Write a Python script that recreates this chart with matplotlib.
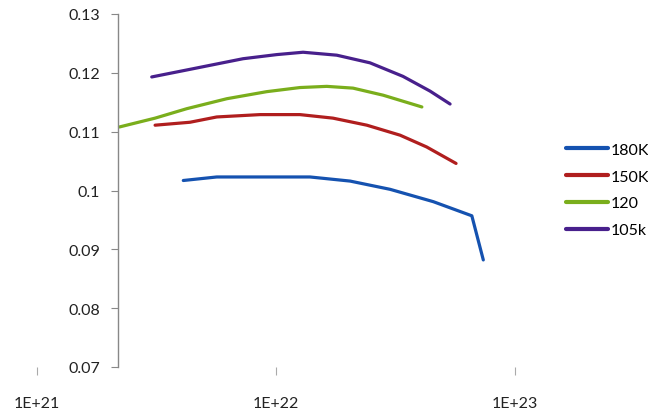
import numpy as np
import matplotlib
matplotlib.use("Agg")
import matplotlib.pyplot as plt

plt.rcParams['font.family'] = ['Lato', 'DejaVu Sans']

# log10 of x, and y values
x_180 = [21.612, 21.752, 21.95, 22.142, 22.310, 22.477, 22.658, 22.819, 22.867]
y_180 = [0.1017, 0.1023, 0.1023, 0.1023, 0.1016, 0.1002, 0.0981, 0.0957, 0.0882]

x_150 = [21.494, 21.640, 21.752, 21.933, 22.100, 22.238, 22.380, 22.519, 22.630, 22.753]
y_150 = [0.1111, 0.1116, 0.1125, 0.1129, 0.1129, 0.1123, 0.1111, 0.1094, 0.1074, 0.1046]

x_120 = [21.345, 21.494, 21.626, 21.794, 21.961, 22.100, 22.212, 22.322, 22.448, 22.610]
y_120 = [0.1108, 0.1123, 0.1139, 0.1156, 0.1168, 0.1175, 0.1177, 0.1174, 0.1162, 0.1142]

x_105 = [21.480, 21.653, 21.862, 22.003, 22.113, 22.254, 22.393, 22.531, 22.644, 22.728]
y_105 = [0.1193, 0.1207, 0.1224, 0.1231, 0.1235, 0.1230, 0.1217, 0.1194, 0.1169, 0.1147]

labels = ["180K", "150K", "120", "105k"]
colors = ["#1552B0", "#B01E1E", "#7AAE1C", "#48208C"]

fig = plt.figure(figsize=(6.48, 4.14), dpi=100)
ax = fig.add_axes([37/648, 1-368/414, (539-37)/648, (368-15)/414])

series = [(x_180, y_180), (x_150, y_150), (x_120, y_120), (x_105, y_105)]
for (xs, ys), lab, c in zip(series, labels, colors):
    ax.plot(10**np.array(xs), ys, color=c, lw=2.3, label=lab,
            solid_capstyle='round', solid_joinstyle='round')

ax.set_xscale('log')
ax.set_xlim(1e21, 10**23.1)
ax.set_ylim(0.07, 0.13)
ax.set_yticks([0.07, 0.08, 0.09, 0.10, 0.11, 0.12, 0.13])
ax.set_yticklabels(["0.07", "0.08", "0.09", "0.1", "0.11", "0.12", "0.13"])
ax.set_xticks([1e21, 1e22, 1e23])
ax.set_xticklabels(["1E+21", "1E+22", "1E+23"])
ax.xaxis.set_minor_locator(matplotlib.ticker.NullLocator())

for s in ['top', 'right', 'bottom']:
    ax.spines[s].set_visible(False)
ax.spines['left'].set_position(('data', 10**21.339))
ax.spines['left'].set_color('#888888')
ax.spines['left'].set_linewidth(1.0)

ax.tick_params(axis='y', direction='out', length=5, color='#888888', pad=8,
               labelsize=11.5, labelcolor='#222222')
ax.tick_params(axis='x', direction='out', length=6, color='#aaaaaa', pad=15,
               labelsize=11.5, labelcolor='#222222')

leg = fig.legend(loc='upper left', bbox_to_anchor=(560/648, 1-137/414), frameon=False,
                 handlelength=2.6, handletextpad=0.15, labelspacing=0.8, fontsize=11.5,
                 borderaxespad=0.0)
for line in leg.get_lines():
    line.set_linewidth(3)

fig.savefig("out.png", dpi=100)
